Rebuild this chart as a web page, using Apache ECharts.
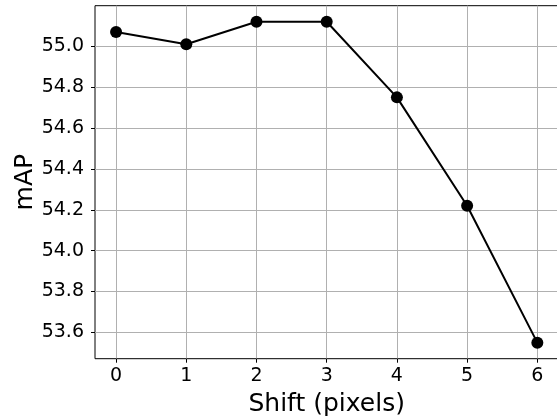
<!DOCTYPE html>
<html>
<head>
<meta charset="utf-8">
<script src="https://cdn.jsdelivr.net/npm/echarts@6/dist/echarts.min.js"></script>
<style>
  html, body { margin: 0; padding: 0; background: #fff; }
  #chart { width: 557px; height: 416px; }
</style>
</head>
<body>
<div id="chart"></div>
<script>
// shift in pixels vs mAP
const shifts = [0, 1, 2, 3, 4, 5, 6];
const mapValues = [55.07, 55.01, 55.12, 55.12, 54.75, 54.22, 53.55];
const yTicks = [53.6, 53.8, 54.0, 54.2, 54.4, 54.6, 54.8, 55.0];
const xTicks = [0, 1, 2, 3, 4, 5, 6];

const chart = echarts.init(document.getElementById('chart'));

// matplotlib-like 5% margins around the data
const yLo = Math.min(...mapValues);
const yHi = Math.max(...mapValues);
const yPad = (yHi - yLo) * 0.05;
const xPad = (shifts[shifts.length - 1] - shifts[0]) * 0.05;

const font = 'DejaVu Sans';

chart.setOption({
  animation: false,
  grid: {
    left: 95,
    right: -1.4,
    top: 5.7,
    bottom: 57.3,
    outerBoundsMode: 'none',
    containLabel: false,
    show: true,
    borderColor: '#000',
    borderWidth: 1,
    backgroundColor: 'transparent'
  },
  xAxis: {
    type: 'value',
    min: shifts[0] - xPad,
    max: shifts[shifts.length - 1] + xPad,
    name: 'Shift (pixels)',
    nameLocation: 'middle',
    nameGap: 33,
    nameMoveOverlap: false,
    nameTextStyle: { color: '#000', fontFamily: font, fontSize: 25 },
    axisLine: { show: false, onZero: false },
    axisTick: {
      show: true,
      inside: false,
      length: 4,
      customValues: xTicks,
      lineStyle: { color: '#000', width: 1 }
    },
    axisLabel: {
      color: '#000',
      fontFamily: font,
      fontSize: 19,
      margin: 8,
      customValues: xTicks,
      formatter: v => String(v)
    },
    splitLine: { show: true, lineStyle: { color: '#b0b0b0', width: 1 } }
  },
  yAxis: {
    type: 'value',
    min: yLo - yPad,
    max: yHi + yPad,
    name: 'mAP',
    nameLocation: 'middle',
    nameRotate: 90,
    nameGap: 57,
    nameMoveOverlap: false,
    nameTextStyle: { color: '#000', fontFamily: font, fontSize: 25 },
    axisLine: { show: false, onZero: false },
    axisTick: {
      show: true,
      inside: false,
      length: 4,
      customValues: yTicks,
      lineStyle: { color: '#000', width: 1 }
    },
    axisLabel: {
      color: '#000',
      fontFamily: font,
      fontSize: 19,
      margin: 11,
      customValues: yTicks,
      formatter: v => v.toFixed(1)
    },
    splitLine: { show: true, lineStyle: { color: '#b0b0b0', width: 1 } }
  },
  series: [
    {
      type: 'line',
      data: shifts.map((s, i) => [s, mapValues[i]]),
      symbol: 'circle',
      symbolSize: 12,
      lineStyle: { color: '#000', width: 2 },
      itemStyle: { color: '#000' },
      clip: false
    }
  ]
});
</script>
</body>
</html>
